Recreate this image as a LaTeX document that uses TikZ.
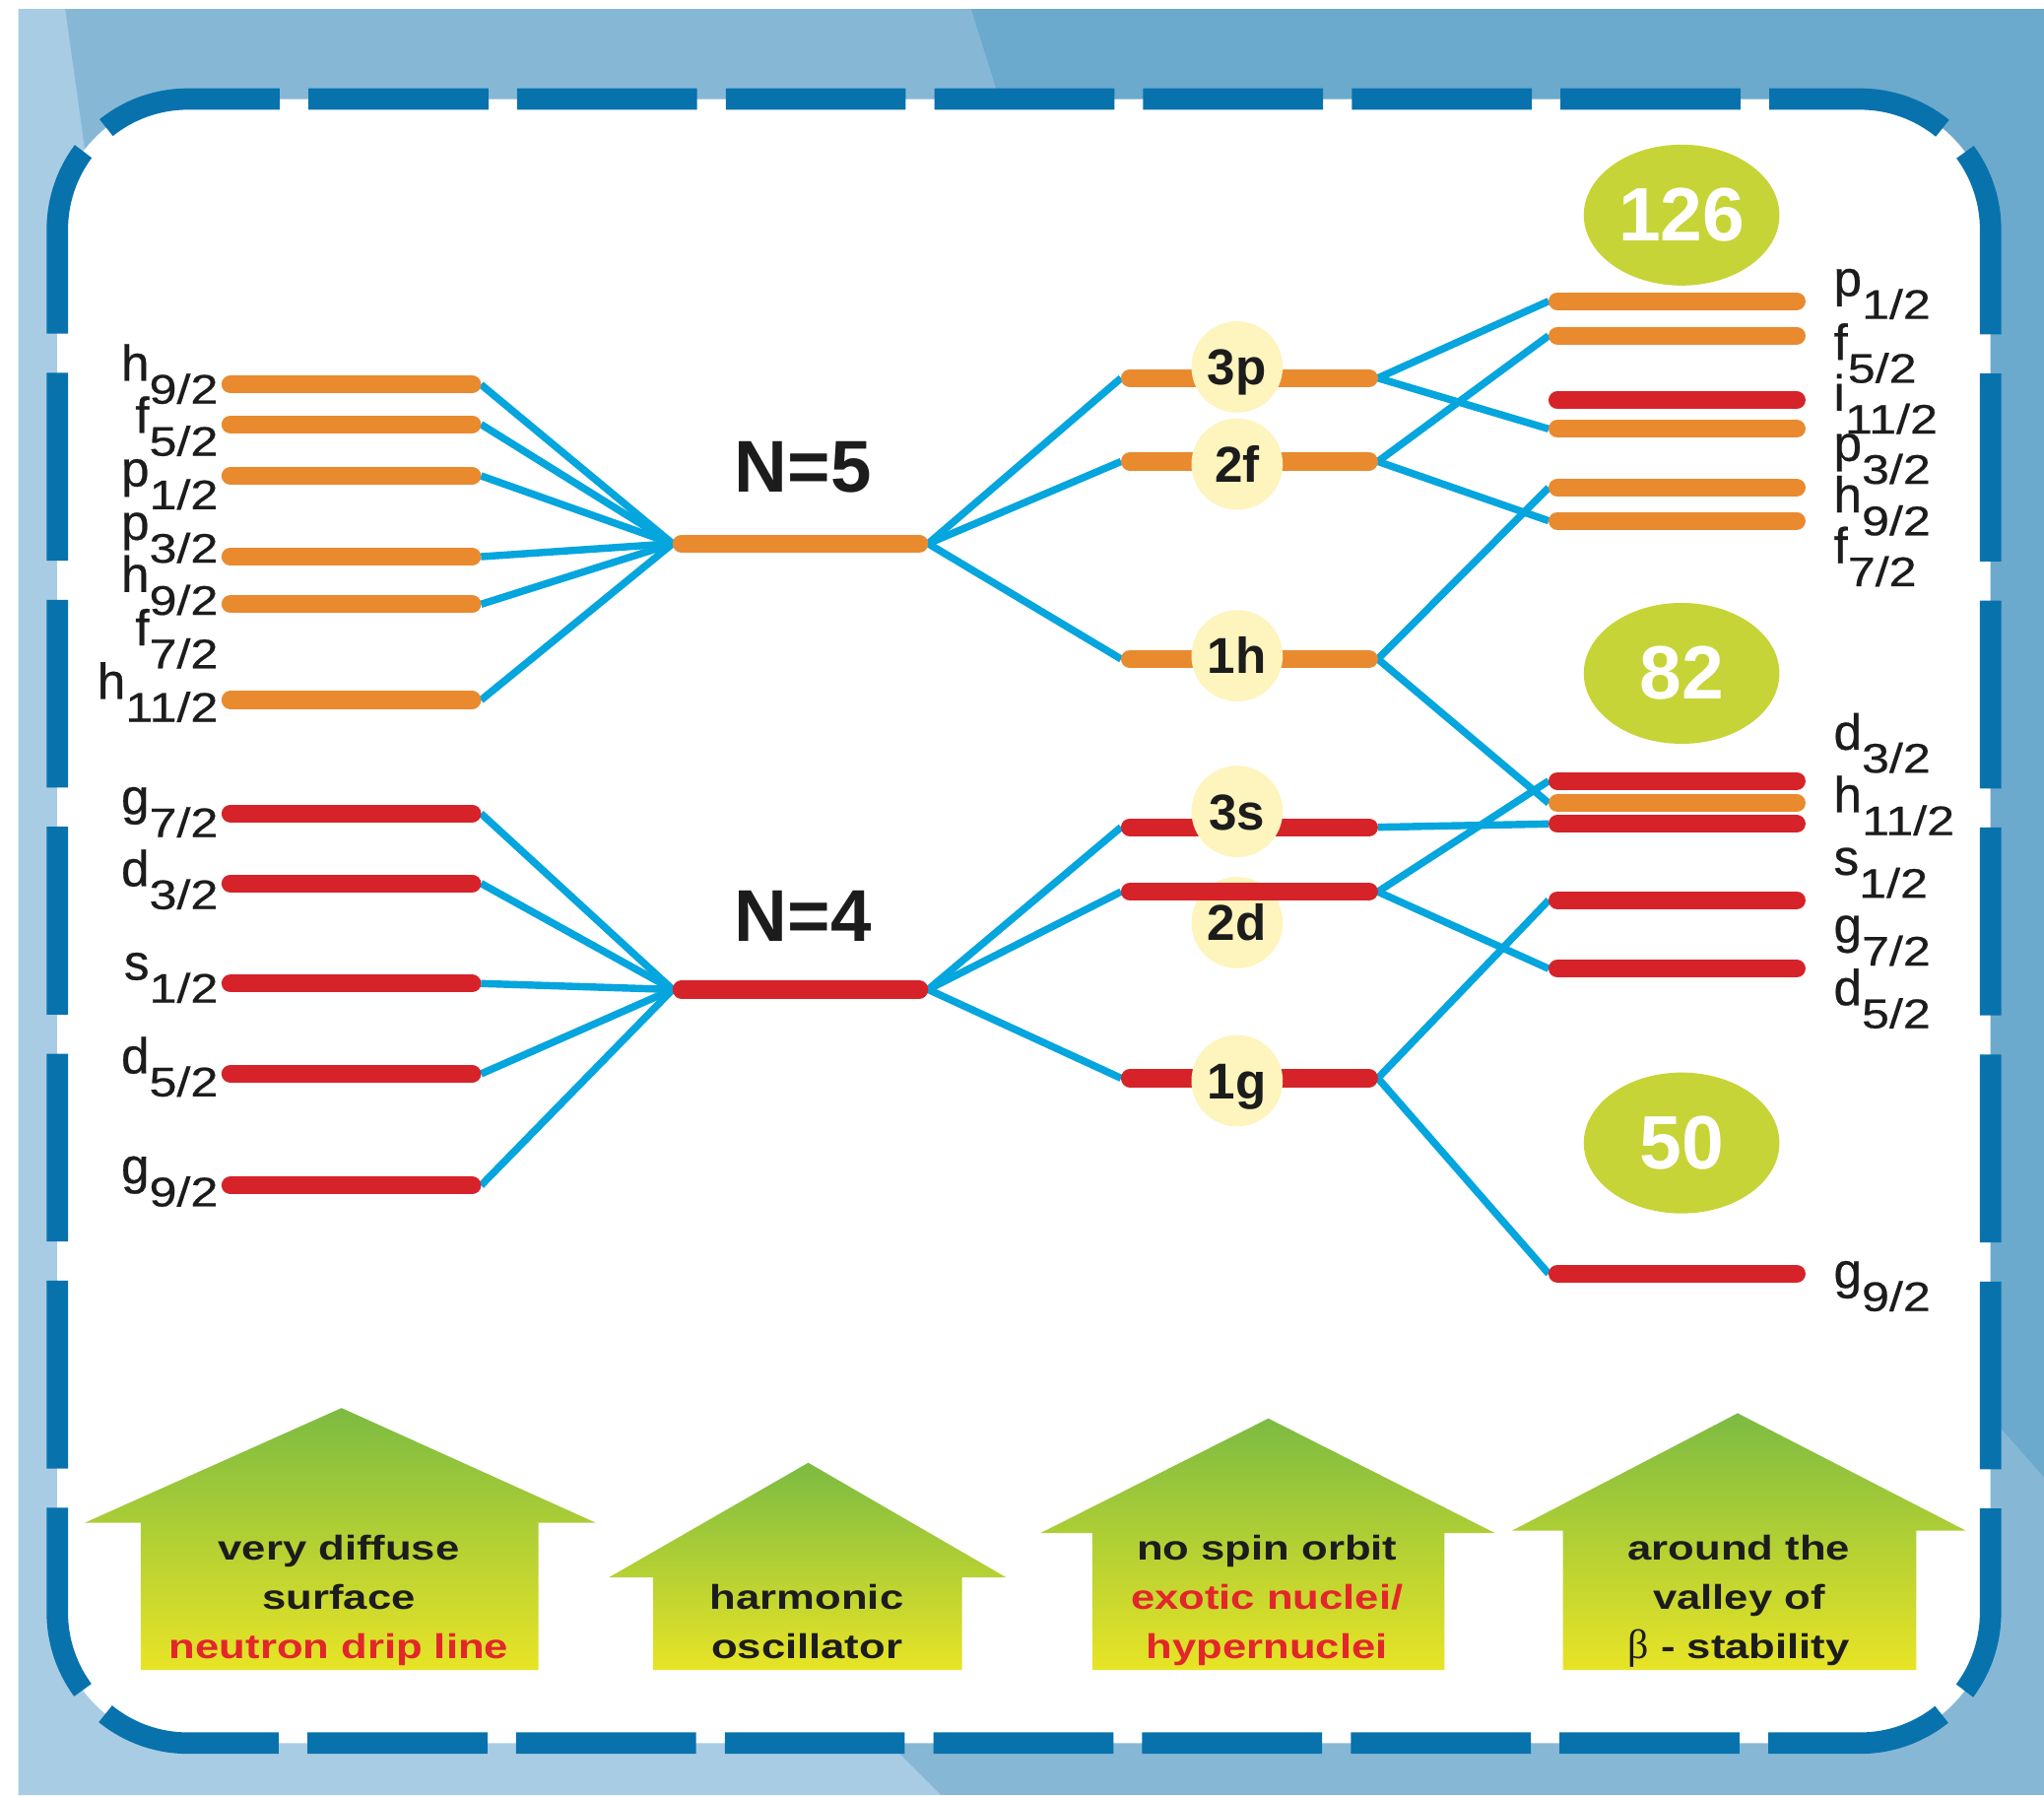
\documentclass[tikz,border=0pt]{standalone}
\usepackage{fontspec}
\setmainfont{Liberation Sans}
\newfontfamily\labfont[FakeBold=0.5]{Liberation Sans}
\newfontfamily\subfont[FakeStretch=1.2,FakeBold=0.5]{Liberation Sans}
\newfontfamily\arrfont[FakeStretch=1.25]{Liberation Sans}
\newfontfamily\betafont{Liberation Serif}
\usetikzlibrary{shapes.geometric}
\definecolor{bgL}{HTML}{A8CCE3}
\definecolor{bgM}{HTML}{86B8D6}
\definecolor{bgD}{HTML}{6BA9CD}
\definecolor{brd}{HTML}{0872AD}
\definecolor{orng}{HTML}{E98A2F}
\definecolor{rd}{HTML}{D52329}
\definecolor{cy}{HTML}{05A5DE}
\definecolor{lime}{HTML}{C6D437}
\definecolor{pale}{HTML}{FEF4BD}
\definecolor{agreen}{HTML}{7CBB42}
\definecolor{ayellow}{HTML}{E8E426}
\definecolor{txt}{HTML}{1C1C1C}
\definecolor{txtred}{HTML}{E2262B}
\newcommand\shl[2]{{\labfont\fontsize{11}{13}\selectfont #1}\raisebox{-5pt}{\subfont\fontsize{9}{11}\selectfont #2}}
\newcommand\mkbar[2]{\draw[#2] ([xshift=0.068cm]#1-w) -- ([xshift=-0.068cm]#1-e);}
\begin{document}
\begin{tikzpicture}[x=0.01cm,y=-0.01cm,
  lvbar/.style={line width=1.38mm,line cap=round},
  obar/.style={lvbar,draw=orng},
  rbar/.style={lvbar,draw=rd},
  conn/.style={draw=cy,line width=0.56mm},
  lbl/.style={inner sep=0pt,text=txt},
  magic/.style={shape=ellipse,fill=lime,minimum width=1.5cm,minimum height=1.08cm,inner sep=0pt,text=white,font=\bfseries\fontsize{16.5}{18}\selectfont},
  orb/.style={circle,fill=pale,minimum size=0.7cm,inner sep=0pt,text=txt,font=\bfseries\fontsize{11}{13}\selectfont,text height=7.9pt,text depth=0pt},
  house/.style={top color=agreen,bottom color=ayellow},
  atxt/.style={inner sep=0pt,anchor=base,text=txt,font=\arrfont\bfseries\fontsize{7.5}{9}\selectfont},
  brdr/.style={draw=brd,line width=1.64mm}]
\useasboundingbox (0,0) rectangle (1568,1377);
% background
\fill[white] (0,0) rectangle (1568,1377);
\fill[bgM] (14,7) rectangle (1568,1377);
\fill[bgL] (14,7) -- (50,7) -- (70,150) -- (690,1345) -- (722,1377) -- (14,1377) -- cycle;
\fill[bgD] (745,7) -- (1568,7) -- (1568,1133) -- (1530,1090) -- (790,150) -- cycle;
\fill[white,rounded corners=1cm] (44,76) rectangle (1527,1337);
% dashed border
\draw[brdr,dash pattern=on 1.38cm off 0.22cm,dash phase=1.49cm] (73.29,105.29) arc[start angle=135,end angle=90,radius=1cm] -- (1427,76) arc[start angle=90,end angle=45,radius=1cm];
\draw[brdr,dash pattern=on 1.44cm off 0.30cm,dash phase=1.59cm] (1497.71,105.29) arc[start angle=45,end angle=0,radius=1cm] -- (1527,1237) arc[start angle=0,end angle=-45,radius=1cm];
\draw[brdr,dash pattern=on 1.38cm off 0.22cm,dash phase=1.49cm] (1497.71,1307.71) arc[start angle=-45,end angle=-90,radius=1cm] -- (144,1337) arc[start angle=-90,end angle=-135,radius=1cm];
\draw[brdr,dash pattern=on 1.44cm off 0.30cm,dash phase=1.59cm] (73.29,1307.71) arc[start angle=-135,end angle=-180,radius=1cm] -- (44,176) arc[start angle=180,end angle=135,radius=1cm];
% level coordinates
\foreach \n/\y in {L5a/295,L5b/325.5,L5c/365,L5d/427,L5e/463.5,L5f/537,L4a/624,L4b/677.6,L4c/754.4,L4d/823.7,L4e/909.3}{
  \coordinate (\n-w) at (170,\y); \coordinate (\n-e) at (369,\y);}
\coordinate (N5-w) at (516,417); \coordinate (N5-e) at (712,417);
\coordinate (N4-w) at (516,759); \coordinate (N4-e) at (712,759);
\foreach \n/\y in {M3p/290,M2f/354,M1h/505.5,M3s/634.5,M2d/684,M1g/827}{
  \coordinate (\n-w) at (860,\y); \coordinate (\n-e) at (1057,\y);}
\foreach \n/\y in {Rp1/231,Rf5/257.5,Ri11/307,Rp3/329,Rh9/374,Rf7/399.5,Rd3/599,Rh11/616,Rs1/632,Rg7/690.5,Rd5/743,Rg9/977}{
  \coordinate (\n-w) at (1188,\y); \coordinate (\n-e) at (1385,\y);}
% connectors
\foreach \n in {L5a,L5b,L5c,L5d,L5e,L5f}{\draw[conn] (\n-e) -- (N5-w);}
\foreach \n in {L4a,L4b,L4c,L4d,L4e}{\draw[conn] (\n-e) -- (N4-w);}
\foreach \n in {M3p,M2f,M1h}{\draw[conn] (N5-e) -- (\n-w);}
\foreach \n in {M3s,M2d,M1g}{\draw[conn] (N4-e) -- (\n-w);}
\draw[conn] (M3p-e) -- (Rp1-w);
\draw[conn] (M3p-e) -- (Rp3-w);
\draw[conn] (M2f-e) -- (Rf5-w);
\draw[conn] (M2f-e) -- (Rf7-w);
\draw[conn] (M1h-e) -- (Rh9-w);
\draw[conn] (M1h-e) -- (Rh11-w);
\draw[conn] (M3s-e) -- (Rs1-w);
\draw[conn] (M2d-e) -- (Rd3-w);
\draw[conn] (M2d-e) -- (Rd5-w);
\draw[conn] (M1g-e) -- (Rg7-w);
\draw[conn] (M1g-e) -- (Rg9-w);
% 2d orbit circle under its bar
\node[orb] (o2d) at (949,707.7) {2d};
% bars
\foreach \n in {L5a,L5b,L5c,L5d,L5e,L5f,N5,M3p,M2f,M1h,Rp1,Rf5,Rp3,Rh9,Rf7,Rh11}{\mkbar{\n}{obar}}
\foreach \n in {L4a,L4b,L4c,L4d,L4e,N4,M3s,M2d,M1g,Ri11,Rd3,Rs1,Rg7,Rd5,Rg9}{\mkbar{\n}{rbar}}
% orbit circles
\node[orb] (o3p) at (949,281.5) {3p};
\node[orb] (o2f) at (949,356) {2f};
\node[orb] (o1h) at (949,503) {1h};
\node[orb] (o3s) at (949,622.4) {3s};
\node[orb] (o1g) at (949,829) {1g};
% magic numbers
\node[magic] (m126) at (1290,165) {126};
\node[magic] (m82) at (1290,516.5) {82};
\node[magic] (m50) at (1290,876.7) {50};
% shell labels
\node[anchor=base,inner sep=0pt,text=txt,font=\bfseries\fontsize{16}{19}\selectfont] (tN5) at (616,377.8) {N=5};
\node[anchor=base,inner sep=0pt,text=txt,font=\bfseries\fontsize{16}{19}\selectfont] (tN4) at (616,721.7) {N=4};
% left labels
\node[lbl,anchor=base east] (l1) at (168,292) {\shl{h}{9/2}};
\node[lbl,anchor=base east] (l2) at (168,332) {\shl{f}{5/2}};
\node[lbl,anchor=base east] (l3) at (168,373) {\shl{p}{1/2}};
\node[lbl,anchor=base east] (l4) at (168,414) {\shl{p}{3/2}};
\node[lbl,anchor=base east] (l5) at (168,454) {\shl{h}{9/2}};
\node[lbl,anchor=base east] (l6) at (168,495) {\shl{f}{7/2}};
\node[lbl,anchor=base east] (l7) at (168,536) {\shl{h}{11/2}};
\node[lbl,anchor=base east] (l8) at (168,624.5) {\shl{g}{7/2}};
\node[lbl,anchor=base east] (l9) at (168,679.7) {\shl{d}{3/2}};
\node[lbl,anchor=base east] (l10) at (168,751.5) {\shl{s}{1/2}};
\node[lbl,anchor=base east] (l11) at (168,823.3) {\shl{d}{5/2}};
\node[lbl,anchor=base east] (l12) at (168,907.7) {\shl{g}{9/2}};
% right labels
\node[lbl,anchor=base west] (r1) at (1406,227) {\shl{p}{1/2}};
\node[lbl,anchor=base west] (r2) at (1406,276) {\shl{f}{5/2}};
\node[lbl,anchor=base west] (r3) at (1406,315) {\shl{i}{11/2}};
\node[lbl,anchor=base west] (r4) at (1406,353.5) {\shl{p}{3/2}};
\node[lbl,anchor=base west] (r5) at (1406,393) {\shl{h}{9/2}};
\node[lbl,anchor=base west] (r6) at (1406,432) {\shl{f}{7/2}};
\node[lbl,anchor=base west] (r7) at (1406,575) {\shl{d}{3/2}};
\node[lbl,anchor=base west] (r8) at (1406,623) {\shl{h}{11/2}};
\node[lbl,anchor=base west] (r9) at (1406,671) {\shl{s}{1/2}};
\node[lbl,anchor=base west] (r10) at (1406,723) {\shl{g}{7/2}};
\node[lbl,anchor=base west] (r11) at (1406,771) {\shl{d}{5/2}};
\node[lbl,anchor=base west] (r12) at (1406,988) {\shl{g}{9/2}};
% bottom arrows
\shade[house] (262,1080) -- (457,1168) -- (413,1168) -- (413,1281) -- (108,1281) -- (108,1168) -- (65,1168) -- cycle;
\shade[house] (620,1122) -- (772,1210) -- (738,1210) -- (738,1281) -- (501,1281) -- (501,1210) -- (467,1210) -- cycle;
\shade[house] (973,1088) -- (1147,1176) -- (1108,1176) -- (1108,1281) -- (838,1281) -- (838,1176) -- (798,1176) -- cycle;
\shade[house] (1333,1084) -- (1508,1174) -- (1470,1174) -- (1470,1281) -- (1199,1281) -- (1199,1174) -- (1160,1174) -- cycle;
\node[atxt] (a1a) at (260,1196.5) {very diffuse};
\node[atxt] (a1b) at (260,1234.3) {surface};
\node[atxt,text=txtred] (a1c) at (260,1272) {neutron drip line};
\node[atxt] (a2a) at (619,1234.3) {harmonic};
\node[atxt] (a2b) at (619,1272) {oscillator};
\node[atxt] (a3a) at (972,1196.5) {no spin orbit};
\node[atxt,text=txtred] (a3b) at (972,1234.3) {exotic nuclei/};
\node[atxt,text=txtred] (a3c) at (972,1272) {hypernuclei};
\node[atxt] (a4a) at (1334,1196.5) {around the};
\node[atxt] (a4b) at (1334,1234.3) {valley of};
\node[atxt] (a4c) at (1334,1272) {{\betafont\mdseries\fontsize{9}{9}\selectfont β} - stability};
\end{tikzpicture}
\end{document}
